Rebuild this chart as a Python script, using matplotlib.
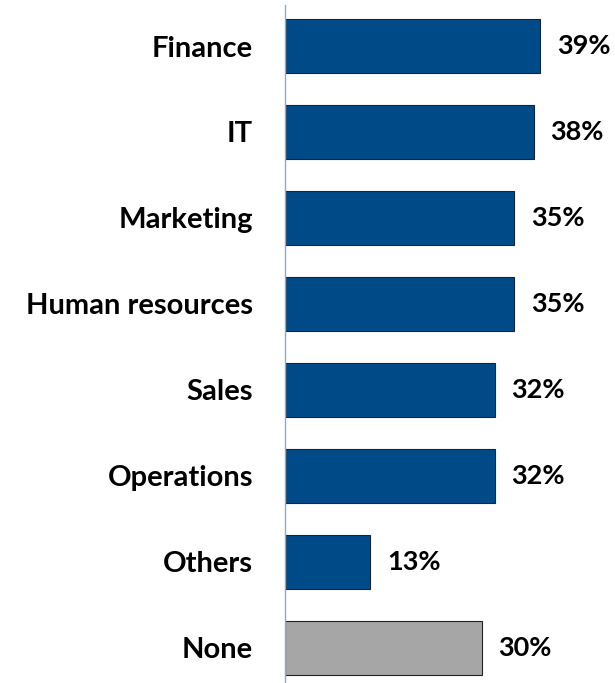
import matplotlib.pyplot as plt

categories = ["Finance", "IT", "Marketing", "Human resources", "Sales", "Operations", "Others", "None"]
values = [39, 38, 35, 35, 32, 32, 13, 30]
bar_colors = ["#004A87"] * 7 + ["#A6A6A6"]

plt.rcParams["font.family"] = ["Lato", "DejaVu Sans"]

fig = plt.figure(figsize=(6.15, 6.83), dpi=100)
ax = fig.add_axes([285 / 615, 0, 320 / 615, 678 / 683])

y = list(range(len(categories)))
ax.barh(y, values, height=0.63, color=bar_colors, edgecolor="#222222", linewidth=0.8)

# percentage labels just past the bar ends
for yi, v in zip(y, values):
    ax.annotate(f"{v}%", (v, yi), xytext=(12, 0), textcoords="offset points",
                ha="left", va="center", fontsize=19.5, fontweight="bold")

ax.set_xlim(0, 320 / 6.55)
ax.set_ylim(7.41, -0.477)
ax.set_yticks(y)
ax.set_yticklabels(categories, fontsize=21, fontweight="bold")
ax.tick_params(axis="y", length=0, pad=23)
ax.set_xticks([])

for side in ["top", "right", "bottom"]:
    ax.spines[side].set_visible(False)
ax.spines["left"].set_color("#8EA9C8")
ax.spines["left"].set_linewidth(1.0)

fig.savefig("out.png", dpi=100)
